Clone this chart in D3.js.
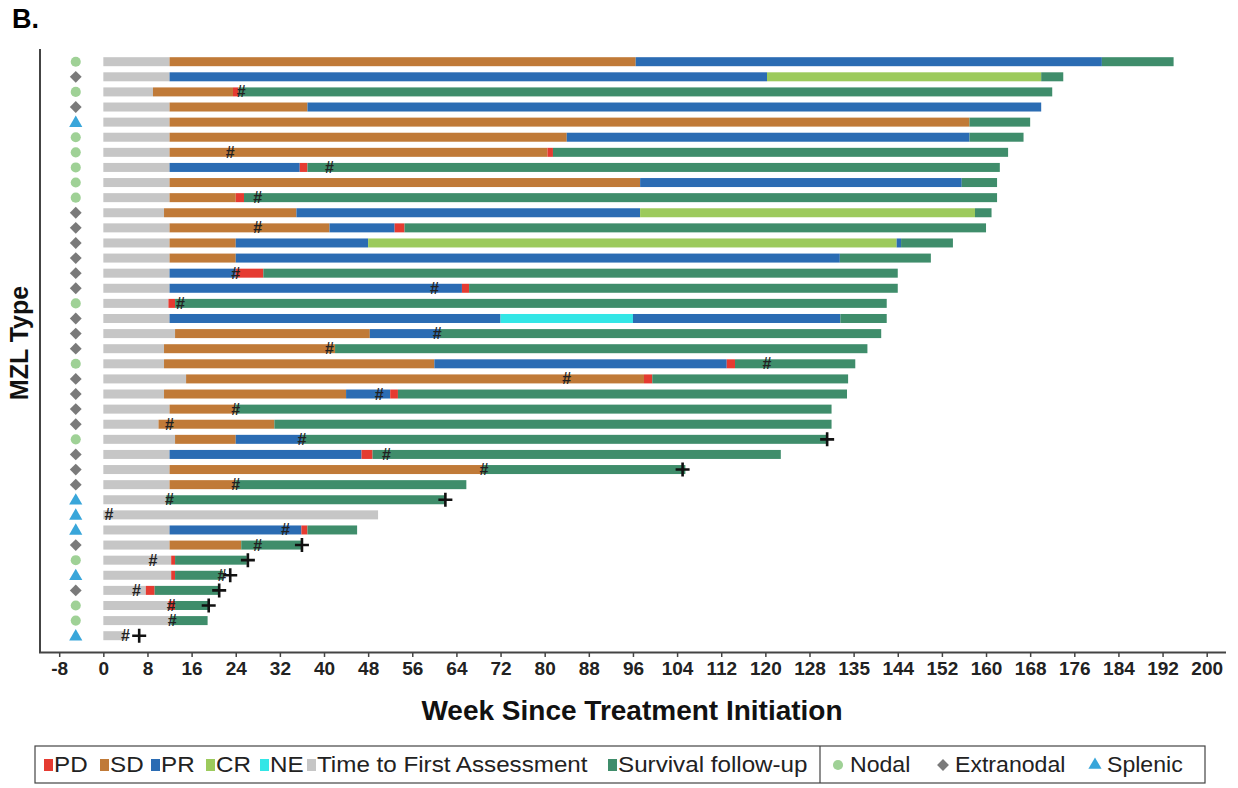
<!DOCTYPE html>
<html>
<head>
<meta charset="utf-8">
<script src="https://cdn.jsdelivr.net/npm/d3@7"></script>
<style>
  body { margin: 0; background: #fff; }
  text { font-family: "Liberation Sans", Arial, sans-serif; }
</style>
</head>
<body>
<div id="chart"></div>
<script>
// MZL type of each patient, top to bottom
const mzlType = [
  "Nodal", "Extranodal", "Nodal", "Extranodal", "Splenic", "Nodal", "Nodal", "Nodal", "Nodal", "Nodal",
  "Extranodal", "Extranodal", "Extranodal", "Extranodal", "Extranodal", "Extranodal", "Nodal", "Extranodal", "Extranodal", "Extranodal",
  "Nodal", "Extranodal", "Extranodal", "Extranodal", "Extranodal", "Nodal", "Extranodal", "Extranodal", "Extranodal", "Splenic",
  "Splenic", "Splenic", "Extranodal", "Nodal", "Splenic", "Extranodal", "Nodal", "Nodal", "Splenic"
];

// [status, start week, end week] per patient
const rowSegments = [
  [["TFA", 0, 12], ["SD", 12, 96.5], ["PR", 96.5, 181], ["SF", 181, 194]],
  [["TFA", 0, 12], ["PR", 12, 120.3], ["CR", 120.3, 170], ["SF", 170, 174]],
  [["TFA", 0, 9], ["SD", 9, 23.5], ["PD", 23.5, 24.5], ["SF", 24.5, 172]],
  [["TFA", 0, 12], ["SD", 12, 37], ["PR", 37, 170]],
  [["TFA", 0, 12], ["SD", 12, 157], ["SF", 157, 168]],
  [["TFA", 0, 12], ["SD", 12, 84], ["PR", 84, 157], ["SF", 157, 166.8]],
  [["TFA", 0, 12], ["SD", 12, 80.5], ["PD", 80.5, 81.5], ["SF", 81.5, 164]],
  [["TFA", 0, 12], ["PR", 12, 35.6], ["PD", 35.6, 37], ["SF", 37, 162.5]],
  [["TFA", 0, 12], ["SD", 12, 97.3], ["PR", 97.3, 155.6], ["SF", 155.6, 162]],
  [["TFA", 0, 12], ["SD", 12, 24], ["PD", 24, 25.5], ["SF", 25.5, 162]],
  [["TFA", 0, 11], ["SD", 11, 35], ["PR", 35, 97.3], ["CR", 97.3, 158], ["SF", 158, 161]],
  [["TFA", 0, 12], ["SD", 12, 41], ["PR", 41, 52.8], ["PD", 52.8, 54.6], ["SF", 54.6, 160]],
  [["TFA", 0, 12], ["SD", 12, 24], ["PR", 24, 48], ["CR", 48, 143.8], ["PR", 143.8, 144.6], ["SF", 144.6, 154]],
  [["TFA", 0, 12], ["SD", 12, 24], ["PR", 24, 133.5], ["SF", 133.5, 150]],
  [["TFA", 0, 12], ["PR", 12, 24], ["PD", 24, 29], ["SF", 29, 144]],
  [["TFA", 0, 12], ["PR", 12, 65], ["PD", 65, 66.3], ["SF", 66.3, 144]],
  [["TFA", 0, 11.8], ["PD", 11.8, 13], ["SF", 13, 142]],
  [["TFA", 0, 12], ["PR", 12, 72], ["NE", 72, 96], ["PR", 96, 133.6], ["SF", 133.6, 142]],
  [["TFA", 0, 13], ["SD", 13, 48.3], ["PR", 48.3, 61], ["SF", 61, 141]],
  [["TFA", 0, 11], ["SD", 11, 42], ["SF", 42, 138.5]],
  [["TFA", 0, 11], ["SD", 11, 60], ["PR", 60, 113], ["PD", 113, 114.5], ["SF", 114.5, 136.3]],
  [["TFA", 0, 15], ["SD", 15, 98], ["PD", 98, 99.5], ["SF", 99.5, 135]],
  [["TFA", 0, 11], ["SD", 11, 44], ["PR", 44, 52], ["PD", 52, 53.4], ["SF", 53.4, 134.8]],
  [["TFA", 0, 12], ["SD", 12, 24], ["SF", 24, 132]],
  [["TFA", 0, 10], ["SD", 10, 31], ["SF", 31, 132]],
  [["TFA", 0, 13], ["SD", 13, 24], ["PR", 24, 36], ["SF", 36, 131.2]],
  [["TFA", 0, 12], ["PR", 12, 46.8], ["PD", 46.8, 48.8], ["SF", 48.8, 122.8]],
  [["TFA", 0, 12], ["SD", 12, 68.8], ["SF", 68.8, 105.5]],
  [["TFA", 0, 12], ["SD", 12, 24], ["SF", 24, 65.8]],
  [["TFA", 0, 11.4], ["SF", 11.4, 62]],
  [["TFA", 0, 49.8]],
  [["TFA", 0, 12], ["PR", 12, 35.9], ["PD", 35.9, 37], ["SF", 37, 46]],
  [["TFA", 0, 12], ["SD", 12, 25], ["SF", 25, 36.2]],
  [["TFA", 0, 12.3], ["PD", 12.3, 13], ["SF", 13, 26]],
  [["TFA", 0, 12.3], ["PD", 12.3, 13], ["SF", 13, 21.7]],
  [["TFA", 0, 7.7], ["PD", 7.7, 9.3], ["SF", 9.3, 21]],
  [["TFA", 0, 11.8], ["PD", 11.8, 13], ["SF", 13, 19]],
  [["TFA", 0, 12.3], ["SF", 12.3, 18.9]],
  [["TFA", 0, 4]]
];

// [row (1-based), week]
const hashMarks = [
  [3, 25], [7, 23], [8, 41], [10, 28], [12, 28], [15, 24], [16, 60], [17, 14], [19, 60.5], [20, 41],
  [21, 120.3], [22, 84], [23, 50], [24, 24], [25, 12], [26, 36], [27, 51.3], [28, 69], [29, 24], [30, 12],
  [31, 1], [32, 33], [33, 28], [34, 9], [35, 21.5], [36, 6], [37, 12.3], [38, 12.5], [39, 4]
];
const plusMarks = [
  [26, 131.2], [28, 105], [30, 62], [33, 36], [34, 26.2], [35, 23], [36, 21], [37, 19.1], [39, 6.5]
];

const statusKeys = ["PD", "SD", "PR", "CR", "NE", "TFA", "SF"];
const statusNames = ["PD", "SD", "PR", "CR", "NE", "Time to First Assessment", "Survival follow-up"];
const statusColors = ["#e53b31", "#c07a38", "#2b6cb3", "#9cca5c", "#33e6e6", "#c6c6c6", "#3f8d6b"];

const typeNames = ["Nodal", "Extranodal", "Splenic"];
const typeColors = ["#9fd196", "#7a7a7a", "#39a6da"];
const typeWeek = -5;

const tickValues = [-8, 0, 8, 16, 24, 32, 40, 48, 56, 64, 72, 80, 88, 96, 104, 112, 120, 128, 136, 144, 152, 160, 168, 176, 184, 192, 200];
const tickLabels = ["-8", "0", "8", "16", "24", "32", "40", "48", "56", "64", "72", "80", "88", "96", "104", "112", "120", "128", "135", "144", "152", "160", "168", "176", "184", "192", "200"];

const W = 1238, H = 788;
const svg = d3.select("#chart").append("svg")
  .attr("width", W)
  .attr("height", H)
  .style("background", "#fff");

const x = d3.scaleLinear().domain([-8, 200]).range([59.2, 1206.7]);
const y = d3.scalePoint().domain(d3.range(1, mzlType.length + 1)).range([61.7, 635.7]);
const color = d3.scaleOrdinal().domain(statusKeys).range(statusColors);
const typeColor = d3.scaleOrdinal().domain(typeNames).range(typeColors);
const barH = 9;

// panel letter
svg.append("text")
  .attr("x", 12)
  .attr("y", 28)
  .style("font-size", "27px")
  .style("font-weight", "bold")
  .text("B.");

// bars
const rows = svg.append("g").selectAll("g")
  .data(rowSegments)
  .enter().append("g")
  .attr("transform", (d, i) => `translate(0, ${y(i + 1) - barH / 2})`);

rows.selectAll("rect")
  .data(d => d)
  .enter().append("rect")
  .attr("x", d => x(d[1]))
  .attr("width", d => x(d[2]) - x(d[1]))
  .attr("y", 0)
  .attr("height", barH)
  .attr("fill", d => color(d[0]));

// MZL type symbols
const sym = {
  Nodal: d3.symbol().type(d3.symbolCircle).size(80),
  Extranodal: d3.symbol().type(d3.symbolSquare).size(70),
  Splenic: d3.symbol().type(d3.symbolTriangle).size(75)
};
const symRotate = { Nodal: 0, Extranodal: 45, Splenic: 0 };
svg.append("g").selectAll("path")
  .data(mzlType)
  .enter().append("path")
  .attr("d", d => sym[d]())
  .attr("transform", (d, i) => `translate(${x(typeWeek)}, ${y(i + 1) + (d === "Splenic" ? 1 : 0)}) rotate(${symRotate[d]})`)
  .attr("fill", d => typeColor(d));

// "#" markers
svg.append("g").selectAll("text")
  .data(hashMarks)
  .enter().append("text")
  .attr("x", d => x(d[1]))
  .attr("y", d => y(d[0]) + 5.5)
  .attr("text-anchor", "middle")
  .style("font-size", "16px")
  .style("font-weight", "bold")
  .attr("fill", "#222")
  .text("#");

// "+" markers
svg.append("g").selectAll("path")
  .data(plusMarks)
  .enter().append("path")
  .attr("d", d => {
    const cx = x(d[1]), cy = y(d[0]);
    return `M${cx - 7},${cy}H${cx + 7}M${cx},${cy - 7}V${cy + 7}`;
  })
  .attr("stroke", "#111")
  .attr("stroke-width", 2.6)
  .attr("fill", "none");

// axes frame
svg.append("line")
  .attr("x1", 40).attr("x2", 40)
  .attr("y1", 49).attr("y2", 653)
  .attr("stroke", "#444").attr("stroke-width", 2);
svg.append("line")
  .attr("x1", 39).attr("x2", 1226)
  .attr("y1", 652.5).attr("y2", 652.5)
  .attr("stroke", "#444").attr("stroke-width", 2);

const xAxis = svg.append("g")
  .attr("transform", "translate(0, 653)")
  .call(d3.axisBottom(x).tickValues(tickValues).tickFormat((d, i) => tickLabels[i]).tickSize(4).tickPadding(5));
xAxis.select(".domain").remove();
xAxis.selectAll(".tick line").attr("stroke", "#444").attr("stroke-width", 1.5);
xAxis.selectAll(".tick text")
  .style("font-size", "19px")
  .style("font-weight", "bold")
  .style("font-family", "\"Liberation Sans\", Arial, sans-serif")
  .attr("fill", "#222");

// axis titles
svg.append("text")
  .attr("x", 632)
  .attr("y", 720)
  .attr("text-anchor", "middle")
  .style("font-size", "28px")
  .style("font-weight", "bold")
  .attr("fill", "#111")
  .text("Week Since Treatment Initiation");

svg.append("text")
  .attr("transform", "rotate(-90)")
  .attr("x", -343)
  .attr("y", 28)
  .attr("text-anchor", "middle")
  .style("font-size", "25px")
  .style("font-weight", "bold")
  .attr("fill", "#111")
  .text("MZL Type");

// legend
const legend = svg.append("g");
legend.append("rect")
  .attr("x", 35).attr("y", 746)
  .attr("width", 1170).attr("height", 37)
  .attr("fill", "none").attr("stroke", "#444").attr("stroke-width", 1.2);
legend.append("line")
  .attr("x1", 820).attr("x2", 820)
  .attr("y1", 746).attr("y2", 783)
  .attr("stroke", "#444").attr("stroke-width", 1.2);

const legendY = 772;
const legendStretch = 1.1;
const statusKeyX = [44, 100, 151, 206, 260, 307, 608];
statusNames.forEach((name, i) => {
  legend.append("rect")
    .attr("x", statusKeyX[i]).attr("y", legendY - 13)
    .attr("width", 9).attr("height", 12)
    .attr("fill", statusColors[i]);
  legend.append("text")
    .attr("transform", `translate(${statusKeyX[i] + 10}, ${legendY}) scale(${legendStretch}, 1)`)
    .style("font-size", "22px")
    .attr("fill", "#222")
    .text(name);
});

const typeKeyX = [838, 943, 1095];
typeNames.forEach((name, i) => {
  legend.append("path")
    .attr("d", sym[name]())
    .attr("transform", `translate(${typeKeyX[i]}, ${legendY - 7}) rotate(${symRotate[name]})`)
    .attr("fill", typeColors[i]);
  legend.append("text")
    .attr("transform", `translate(${typeKeyX[i] + 12}, ${legendY}) scale(1.05, 1)`)
    .style("font-size", "22px")
    .attr("fill", "#222")
    .text(name);
});
</script>
</body>
</html>
